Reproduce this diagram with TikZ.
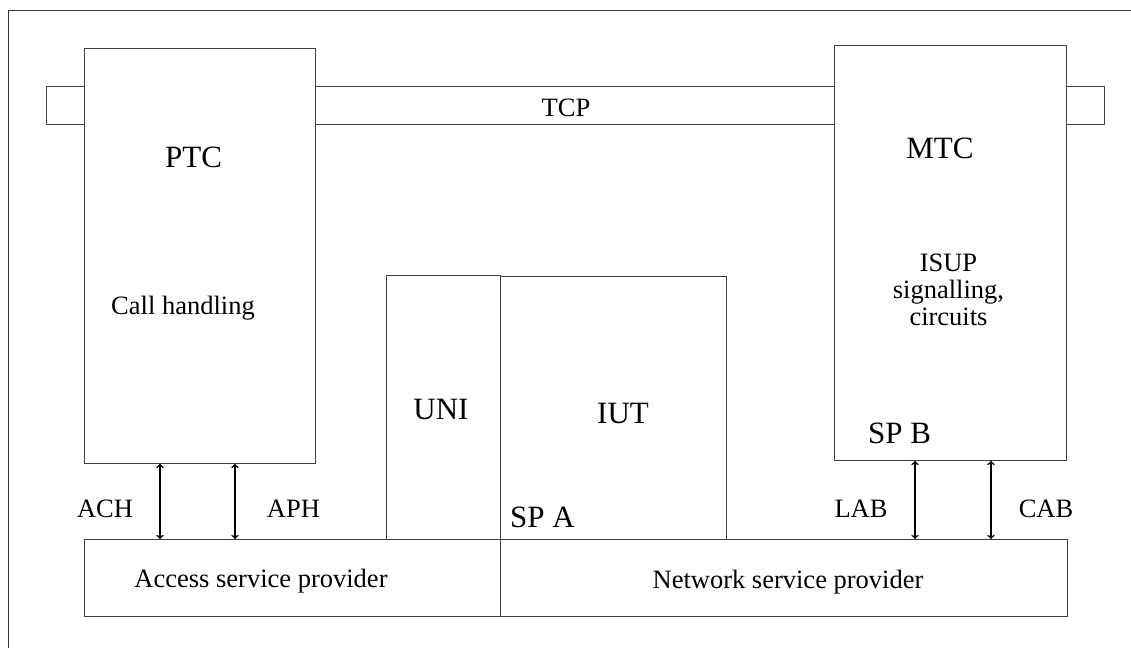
\documentclass[tikz,border=0pt]{standalone}
\usepackage{fontspec}
\setmainfont{Liberation Serif}
\tikzset{
	box/.style={draw=black!75, line width=0.9pt, fill=white, inner sep=0pt, anchor=north west},
	bigtext/.style={font=\fontsize{31}{34}\selectfont, inner sep=0pt, anchor=base},
	smalltext/.style={font=\fontsize{26.5}{27}\selectfont, inner sep=0pt, anchor=base},
	link/.style={<->, >=to, line width=1.6pt},
}
\begin{document}
\begin{tikzpicture}[x=1pt, y=-1pt]
	\useasboundingbox (0,0) rectangle (1131,648);
	\draw[black!80, line width=0.9pt] (8,648) -- (8,10) -- (1131,10);
	% TCP bar behind the two components
	\node[box, minimum width=1058pt, minimum height=38pt] (tcp) at (46,86) {};
	\node[smalltext] (tcplbl) at (566,116.5) {TCP};
	\node[box, minimum width=231pt, minimum height=415pt] (ptc) at (84,48) {};
	\node[box, minimum width=232pt, minimum height=415pt] (mtc) at (834,45) {};
	\node[bigtext] (ptclbl) at (193.5,167) {PTC};
	\node[smalltext] (call) at (183,314) {Call handling};
	\node[bigtext] (mtclbl) at (940,158) {MTC};
	\node[smalltext, anchor=north, align=center] (isup) at (948.5,254) {ISUP\\signalling,\\circuits};
	\node[bigtext, anchor=base west] (spb) at (868,443) {SP B};
	% test system under the SUT
	\node[box, minimum width=114pt, minimum height=264pt] (uni) at (386,275) {};
	\node[box, minimum width=226pt, minimum height=263pt] (iut) at (500,276) {};
	\node[bigtext] (unilbl) at (441,419) {UNI};
	\node[bigtext] (iutlbl) at (623,423) {IUT};
	\node[bigtext, anchor=base west] (spa) at (510,527) {SP A};
	\node[box, minimum width=416pt, minimum height=77pt] (asp) at (84,539) {};
	\node[box, minimum width=567pt, minimum height=77pt] (nsp) at (500,539) {};
	\node[smalltext] (asplbl) at (261,587) {Access service provider};
	\node[smalltext] (nsplbl) at (788,588) {Network service provider};
	% interfaces
	\coordinate (ach) at (160,0);
	\coordinate (aph) at (235,0);
	\coordinate (lab) at (915,0);
	\coordinate (cab) at (991,0);
	\draw[link] (ach |- ptc.south) -- (ach |- asp.north);
	\draw[link] (aph |- ptc.south) -- (aph |- asp.north);
	\draw[link] (lab |- mtc.south) -- (lab |- nsp.north);
	\draw[link] (cab |- mtc.south) -- (cab |- nsp.north);
	\node[smalltext] (achlbl) at (105,517) {ACH};
	\node[smalltext] (aphlbl) at (293.5,517) {APH};
	\node[smalltext] (lablbl) at (861,517) {LAB};
	\node[smalltext] (cablbl) at (1046,517) {CAB};
\end{tikzpicture}
\end{document}
